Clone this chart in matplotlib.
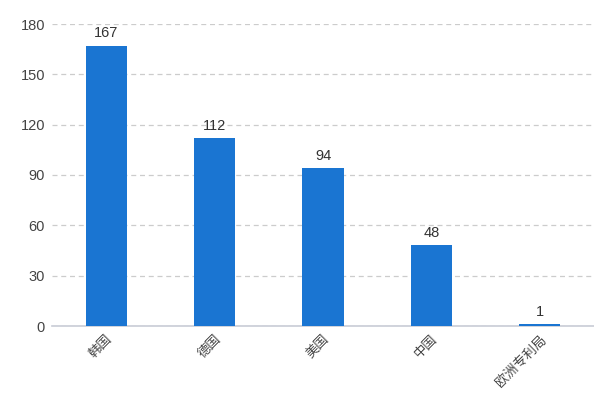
import matplotlib
matplotlib.use("Agg")
import matplotlib.pyplot as plt

plt.rcParams['font.family'] = ['Liberation Sans', 'Noto Sans CJK SC', 'DejaVu Sans']

categories = ['韩国', '德国', '美国', '中国', '欧洲专利局']
values = [167, 112, 94, 48, 1]
yticks = [0, 30, 60, 90, 120, 150, 180]

fig = plt.figure(figsize=(5.94, 3.96), dpi=100)
ax = fig.add_axes([52/594, 1-326/396, (594-52)/594, (326-24)/396])

x = list(range(len(categories)))
bars = ax.bar(x, values, width=0.38, color='#1a75d2', zorder=3)
for xi, v in zip(x, values):
    ax.annotate(str(v), (xi, v), xytext=(0, 4), textcoords='offset points',
                ha='center', va='bottom', fontsize=10.5, color='#333333')

ax.set_xlim(-0.5, 4.5)
ax.set_ylim(0, 180)
ax.set_yticks(yticks)
ax.set_yticklabels([str(t) for t in yticks], fontsize=10.5, color='#444444')
ax.set_xticks(x)
ax.set_xticklabels(categories, rotation=45, ha='right', rotation_mode='anchor',
                   fontsize=9.5, color='#444444')
ax.tick_params(axis='y', length=0, pad=5)
ax.tick_params(axis='x', length=0, pad=5)

ax.grid(axis='y', linestyle=(0, (4, 3)), color='#cccccc', linewidth=0.9, zorder=0)
for s in ['top', 'right', 'left']:
    ax.spines[s].set_visible(False)
ax.spines['bottom'].set_color('#c8ccd6')
ax.spines['bottom'].set_linewidth(1.2)

fig.savefig('out.png', dpi=100)
